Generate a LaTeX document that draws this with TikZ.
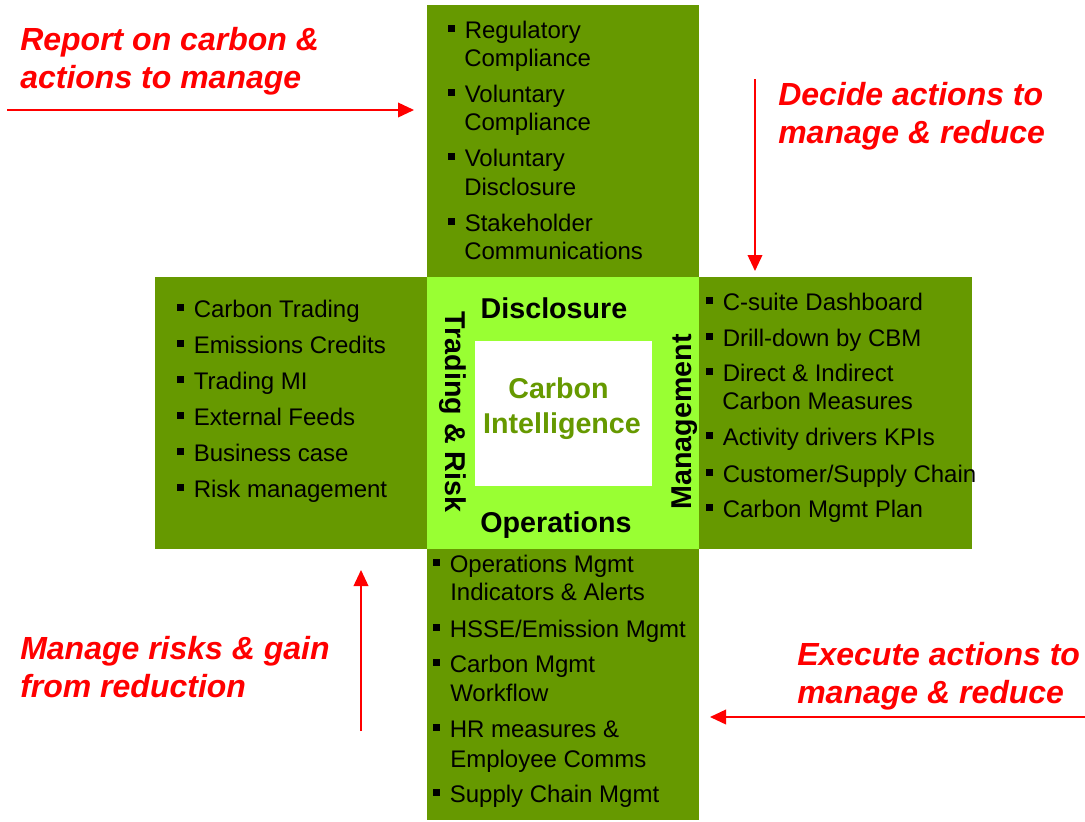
\documentclass[tikz,border=0pt]{standalone}
\usepackage{fontspec}
\setmainfont{Liberation Sans}
\usetikzlibrary{arrows.meta}
\definecolor{dg}{HTML}{669900}
\definecolor{lg}{HTML}{99FF33}
\definecolor{rd}{HTML}{FF0000}
\newcommand{\sqb}{\makebox[12.4pt][l]{\rule[4.6pt]{5.1pt}{5.1pt}}}
\tikzset{
  box/.style={fill=dg, draw=none, inner sep=0, minimum width=204pt, minimum height=204pt},
  lst/.style={anchor=base west, inner sep=0, text=black, font=\fontsize{18}{21.6}\selectfont},
  lbl/.style={inner sep=0, text=black, font=\bfseries\fontsize{21.5}{26}\selectfont},
  ctr/.style={inner sep=0, text=dg, align=center, font=\bfseries\fontsize{21.5}{26.3}\selectfont},
  note/.style={anchor=base west, inner sep=0, align=left, text=rd, font=\bfseries\itshape\fontsize{24}{28.5}\selectfont},
  arr/.style={draw=rd, line width=1.2pt, -{Triangle[length=12pt,width=11pt]}}
}
\begin{document}
\begin{tikzpicture}[x=0.75pt,y=-0.75pt]
\useasboundingbox (0,0) rectangle (1085,821);
% boxes
\node[box] (top) at (563,141) {};
\node[box] (left) at (291,413) {};
\node[box, minimum width=204.75pt] (right) at (835.5,413) {};
\node[box, minimum height=203.25pt] (bottom) at (563,684.5) {};
\node[box, fill=lg] (center) at (563,413) {};
\node[fill=white, inner sep=0, minimum width=132.75pt, minimum height=108.75pt] (white) at (563.5,413.5) {};
% center texts
\node[ctr, anchor=base] (ci1) at (558.5,398) {Carbon};
\node[ctr, anchor=base] (ci2) at (562,433) {Intelligence};
\node[lbl, anchor=base] (disc) at (554,318) {Disclosure};
\node[lbl, anchor=base] (oper) at (556,532) {Operations};
\node[lbl, anchor=base, rotate=-90] (trad) at (445,412) {Trading \& Risk};
\node[lbl, anchor=base, rotate=90] (mgmt) at (691,422) {Management};
% top list
\node[lst] (t1) at (448,38) {\sqb Regulatory};
\node[lst] (t2) at (464,66) {Compliance};
\node[lst] (t3) at (448,102) {\sqb Voluntary};
\node[lst] (t4) at (464,130) {Compliance};
\node[lst] (t5) at (448,166) {\sqb Voluntary};
\node[lst] (t6) at (464,195) {Disclosure};
\node[lst] (t7) at (448,231) {\sqb Stakeholder};
\node[lst] (t8) at (464,259) {Communications};
% left list
\node[lst] (l1) at (177,317) {\sqb Carbon Trading};
\node[lst] (l2) at (177,353) {\sqb Emissions Credits};
\node[lst] (l3) at (177,389) {\sqb Trading MI};
\node[lst] (l4) at (177,425) {\sqb External Feeds};
\node[lst] (l5) at (177,461) {\sqb Business case};
\node[lst] (l6) at (177,497) {\sqb Risk management};
% right list
\node[lst] (r1) at (706,310) {\sqb C-suite Dashboard};
\node[lst] (r2) at (706,346) {\sqb Drill-down by CBM};
\node[lst] (r3) at (706,381) {\sqb Direct \& Indirect};
\node[lst] (r4) at (722,409) {Carbon Measures};
\node[lst] (r5) at (706,445) {\sqb Activity drivers KPIs};
\node[lst] (r6) at (706,482) {\sqb Customer/Supply Chain};
\node[lst] (r7) at (706,517) {\sqb Carbon Mgmt Plan};
% bottom list
\node[lst] (b1) at (433,572) {\sqb Operations Mgmt};
\node[lst] (b2) at (450,600) {Indicators \& Alerts};
\node[lst] (b3) at (433,637) {\sqb HSSE/Emission Mgmt};
\node[lst] (b4) at (433,672) {\sqb Carbon Mgmt};
\node[lst] (b5) at (450,701) {Workflow};
\node[lst] (b6) at (433,737) {\sqb HR measures \&};
\node[lst] (b7) at (450,767) {Employee Comms};
\node[lst] (b8) at (433,802) {\sqb Supply Chain Mgmt};
% red notes (anchor at baseline of last line)
\node[note] (n1) at (20,88) {Report on carbon \&\\actions to manage};
\node[note] (n2) at (778,143) {Decide actions to\\manage \& reduce};
\node[note] (n3) at (20,697) {Manage risks \& gain\\from reduction};
\node[note] (n4) at (797,703) {Execute actions to\\manage \& reduce};
% arrows
\coordinate (a1s) at (7,110);
\coordinate (a1e) at (414,110);
\coordinate (a2s) at (755,79);
\coordinate (a2e) at (755,271);
\coordinate (a3s) at (361,731);
\coordinate (a3e) at (361,570);
\coordinate (a4s) at (1085,717);
\coordinate (a4e) at (710,717);
\draw[arr] (a1s) -- (a1e);
\draw[arr] (a2s) -- (a2e);
\draw[arr] (a3s) -- (a3e);
\draw[arr] (a4s) -- (a4e);
\end{tikzpicture}
\end{document}
